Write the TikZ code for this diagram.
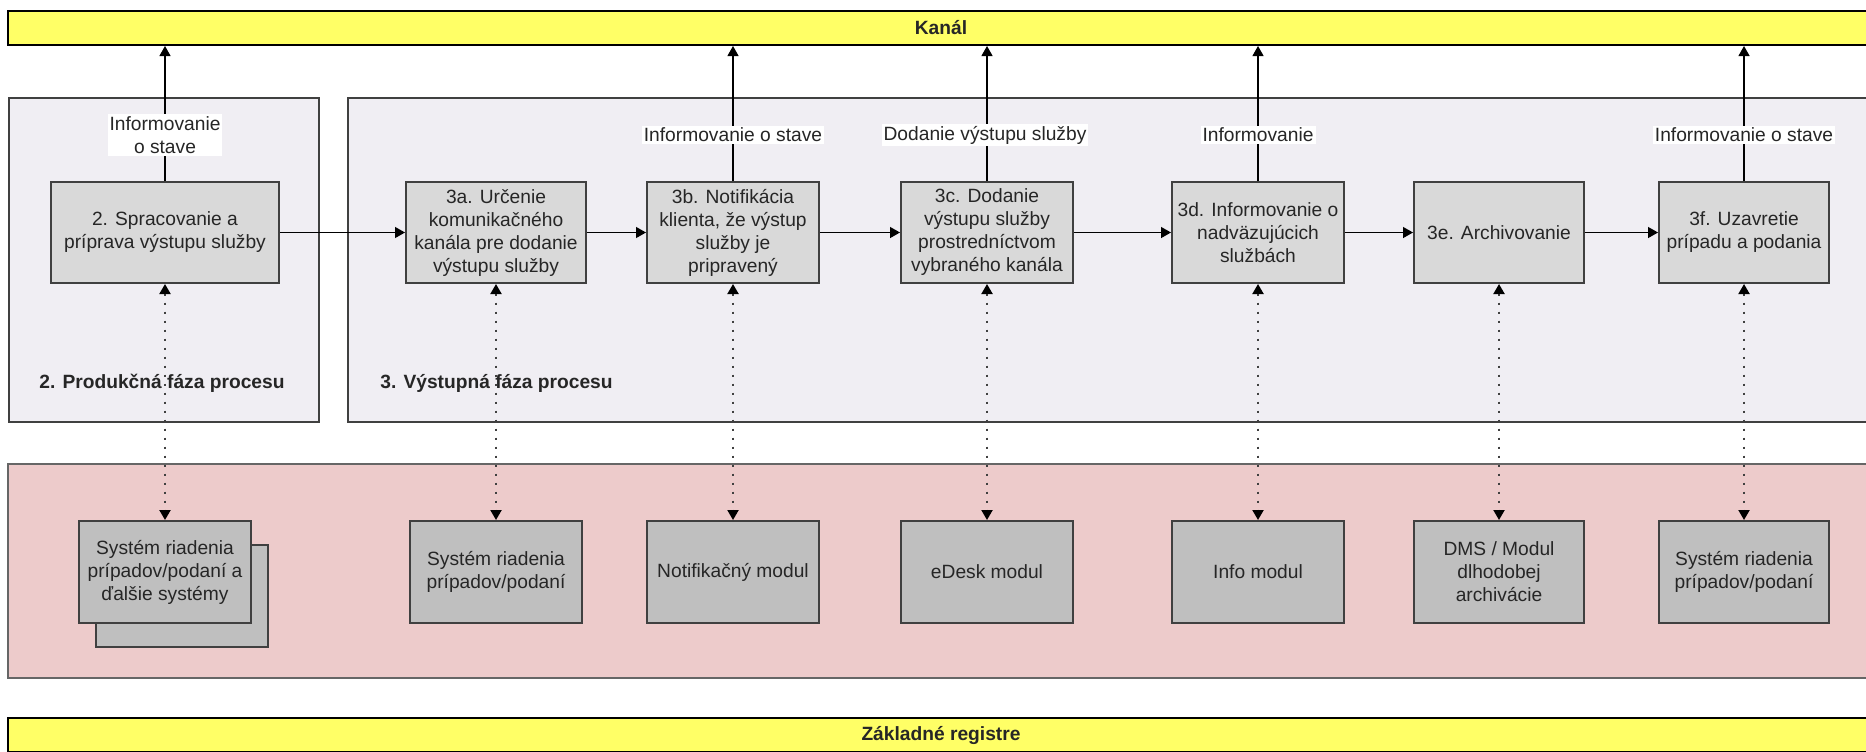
\documentclass[tikz,border=0pt]{standalone}
\usepackage{fontspec}
\setmainfont{Liberation Sans}
\usetikzlibrary{arrows.meta}
\definecolor{kyellow}{HTML}{FFFF66}
\definecolor{phasefill}{HTML}{F0EEF3}
\definecolor{pinkfill}{HTML}{EDCBCB}
\definecolor{procfill}{HTML}{D9D9D9}
\definecolor{sysfill}{HTML}{BFBFBF}
\definecolor{bordc}{HTML}{404040}
\definecolor{txtc}{HTML}{262626}
\definecolor{dotc}{HTML}{404040}
\newcommand{\fsz}{\fontsize{9.6}{11.5}\selectfont}
\begin{document}
\begin{tikzpicture}[x=0.5pt,y=-0.5pt,
  bar/.style={draw=black, fill=kyellow, line width=1pt, minimum width=933pt, minimum height=17pt, inner sep=0pt, font=\fsz\bfseries, text=black!85},
  phase/.style={draw=bordc, fill=phasefill, line width=1pt, inner sep=0pt},
  pinkband/.style={draw=bordc!80, fill=pinkfill, line width=1pt, inner sep=0pt},
  proc/.style={draw=bordc, fill=procfill, line width=1pt, minimum height=50.5pt, align=center, inner sep=1pt, font=\fsz, text=txtc},
  sys/.style={draw=bordc, fill=sysfill, line width=1pt, minimum height=51pt, align=center, inner sep=1pt, font=\fsz, text=txtc},
  lbl/.style={fill=white, inner sep=1pt, align=center, font=\fsz, text=txtc},
  phaselbl/.style={inner sep=0pt, font=\fsz\bfseries, text=black!85},
  arr/.style={-{Triangle[length=5pt,width=5.5pt]}, line width=0.6pt, draw=black},
  dotarr/.style={{Triangle[length=5pt,width=5.5pt,color=black]}-{Triangle[length=5pt,width=5.5pt,color=black]}, dash pattern=on 1pt off 3.5pt, line width=1pt, draw=dotc}
]
\clip (0,0) rectangle (1866,751);
\fill[white] (0,0) rectangle (1866,751);

% bands
\node[bar] (kanal) at (941,28) {Kanál};
\node[phase, minimum width=155pt, minimum height=162pt] (ph2) at (164,260) {};
\node[phase, minimum width=771pt, minimum height=162pt] (ph3) at (1119,260) {};
\node[pinkband, minimum width=941pt, minimum height=107pt] (pink) at (949,571) {};
\node[bar] (zreg) at (941,735) {Základné registre};

% phase labels
\node[phaselbl] (t2) at (162,383) {2. Produkčná fáza procesu};
\node[phaselbl, anchor=west] (t3) at (380,383) {3. Výstupná fáza procesu};

% process boxes
\node[proc, minimum width=114pt] (p2)  at (165,232.5) {2. Spracovanie a\\príprava výstupu služby};
\node[proc, minimum width=90pt]  (p3a) at (496,232.5) {3a. Určenie\\komunikačného\\kanála pre dodanie\\výstupu služby};
\node[proc, minimum width=86pt]  (p3b) at (733,232.5) {3b. Notifikácia\\klienta, že výstup\\služby je\\pripravený};
\node[proc, minimum width=86pt]  (p3c) at (987,232.5) {3c. Dodanie\\výstupu služby\\prostredníctvom\\vybraného kanála};
\node[proc, minimum width=86pt]  (p3d) at (1258,232.5) {3d. Informovanie o\\nadväzujúcich\\službách};
\node[proc, minimum width=85pt]  (p3e) at (1499,232.5) {3e. Archivovanie};
\node[proc, minimum width=85pt]  (p3f) at (1744,232.5) {3f. Uzavretie\\prípadu a podania};

% system boxes
\node[sys, minimum width=86pt] (s2back) at (182,596) {};
\node[sys, minimum width=86pt] (s2)  at (165,572) {Systém riadenia\\prípadov/podaní a\\ďalšie systémy};
\node[sys, minimum width=86pt] (s3a) at (496,572) {Systém riadenia\\prípadov/podaní};
\node[sys, minimum width=86pt] (s3b) at (733,572) {Notifikačný modul};
\node[sys, minimum width=86pt] (s3c) at (987,572) {eDesk modul};
\node[sys, minimum width=86pt] (s3d) at (1258,572) {Info modul};
\node[sys, minimum width=85pt] (s3e) at (1499,572) {DMS / Modul\\dlhodobej\\archivácie};
\node[sys, minimum width=85pt] (s3f) at (1744,572) {Systém riadenia\\prípadov/podaní};

% horizontal flow
\draw[arr] (p2.east) -- (p3a.west);
\draw[arr] (p3a.east) -- (p3b.west);
\draw[arr] (p3b.east) -- (p3c.west);
\draw[arr] (p3c.east) -- (p3d.west);
\draw[arr] (p3d.east) -- (p3e.west);
\draw[arr] (p3e.east) -- (p3f.west);

% upward arrows to channel
\foreach \p in {p2,p3b,p3c,p3d,p3f}
  \draw[arr] (\p.north) -- (\p.north |- kanal.south);
\node[lbl] (l2)  at (165,135) {Informovanie\\o stave};
\node[lbl] (l3b) at (733,135) {Informovanie o stave};
\node[lbl] (l3c) at (985,135) {Dodanie výstupu služby};
\node[lbl] (l3d) at (1258,135) {Informovanie};
\node[lbl] (l3f) at (1744,135) {Informovanie o stave};

% dotted links to systems
\draw[dotarr] (p2.south) -- (s2.north);
\draw[dotarr] (p3a.south) -- (s3a.north);
\draw[dotarr] (p3b.south) -- (s3b.north);
\draw[dotarr] (p3c.south) -- (s3c.north);
\draw[dotarr] (p3d.south) -- (s3d.north);
\draw[dotarr] (p3e.south) -- (s3e.north);
\draw[dotarr] (p3f.south) -- (s3f.north);
\end{tikzpicture}
\end{document}
